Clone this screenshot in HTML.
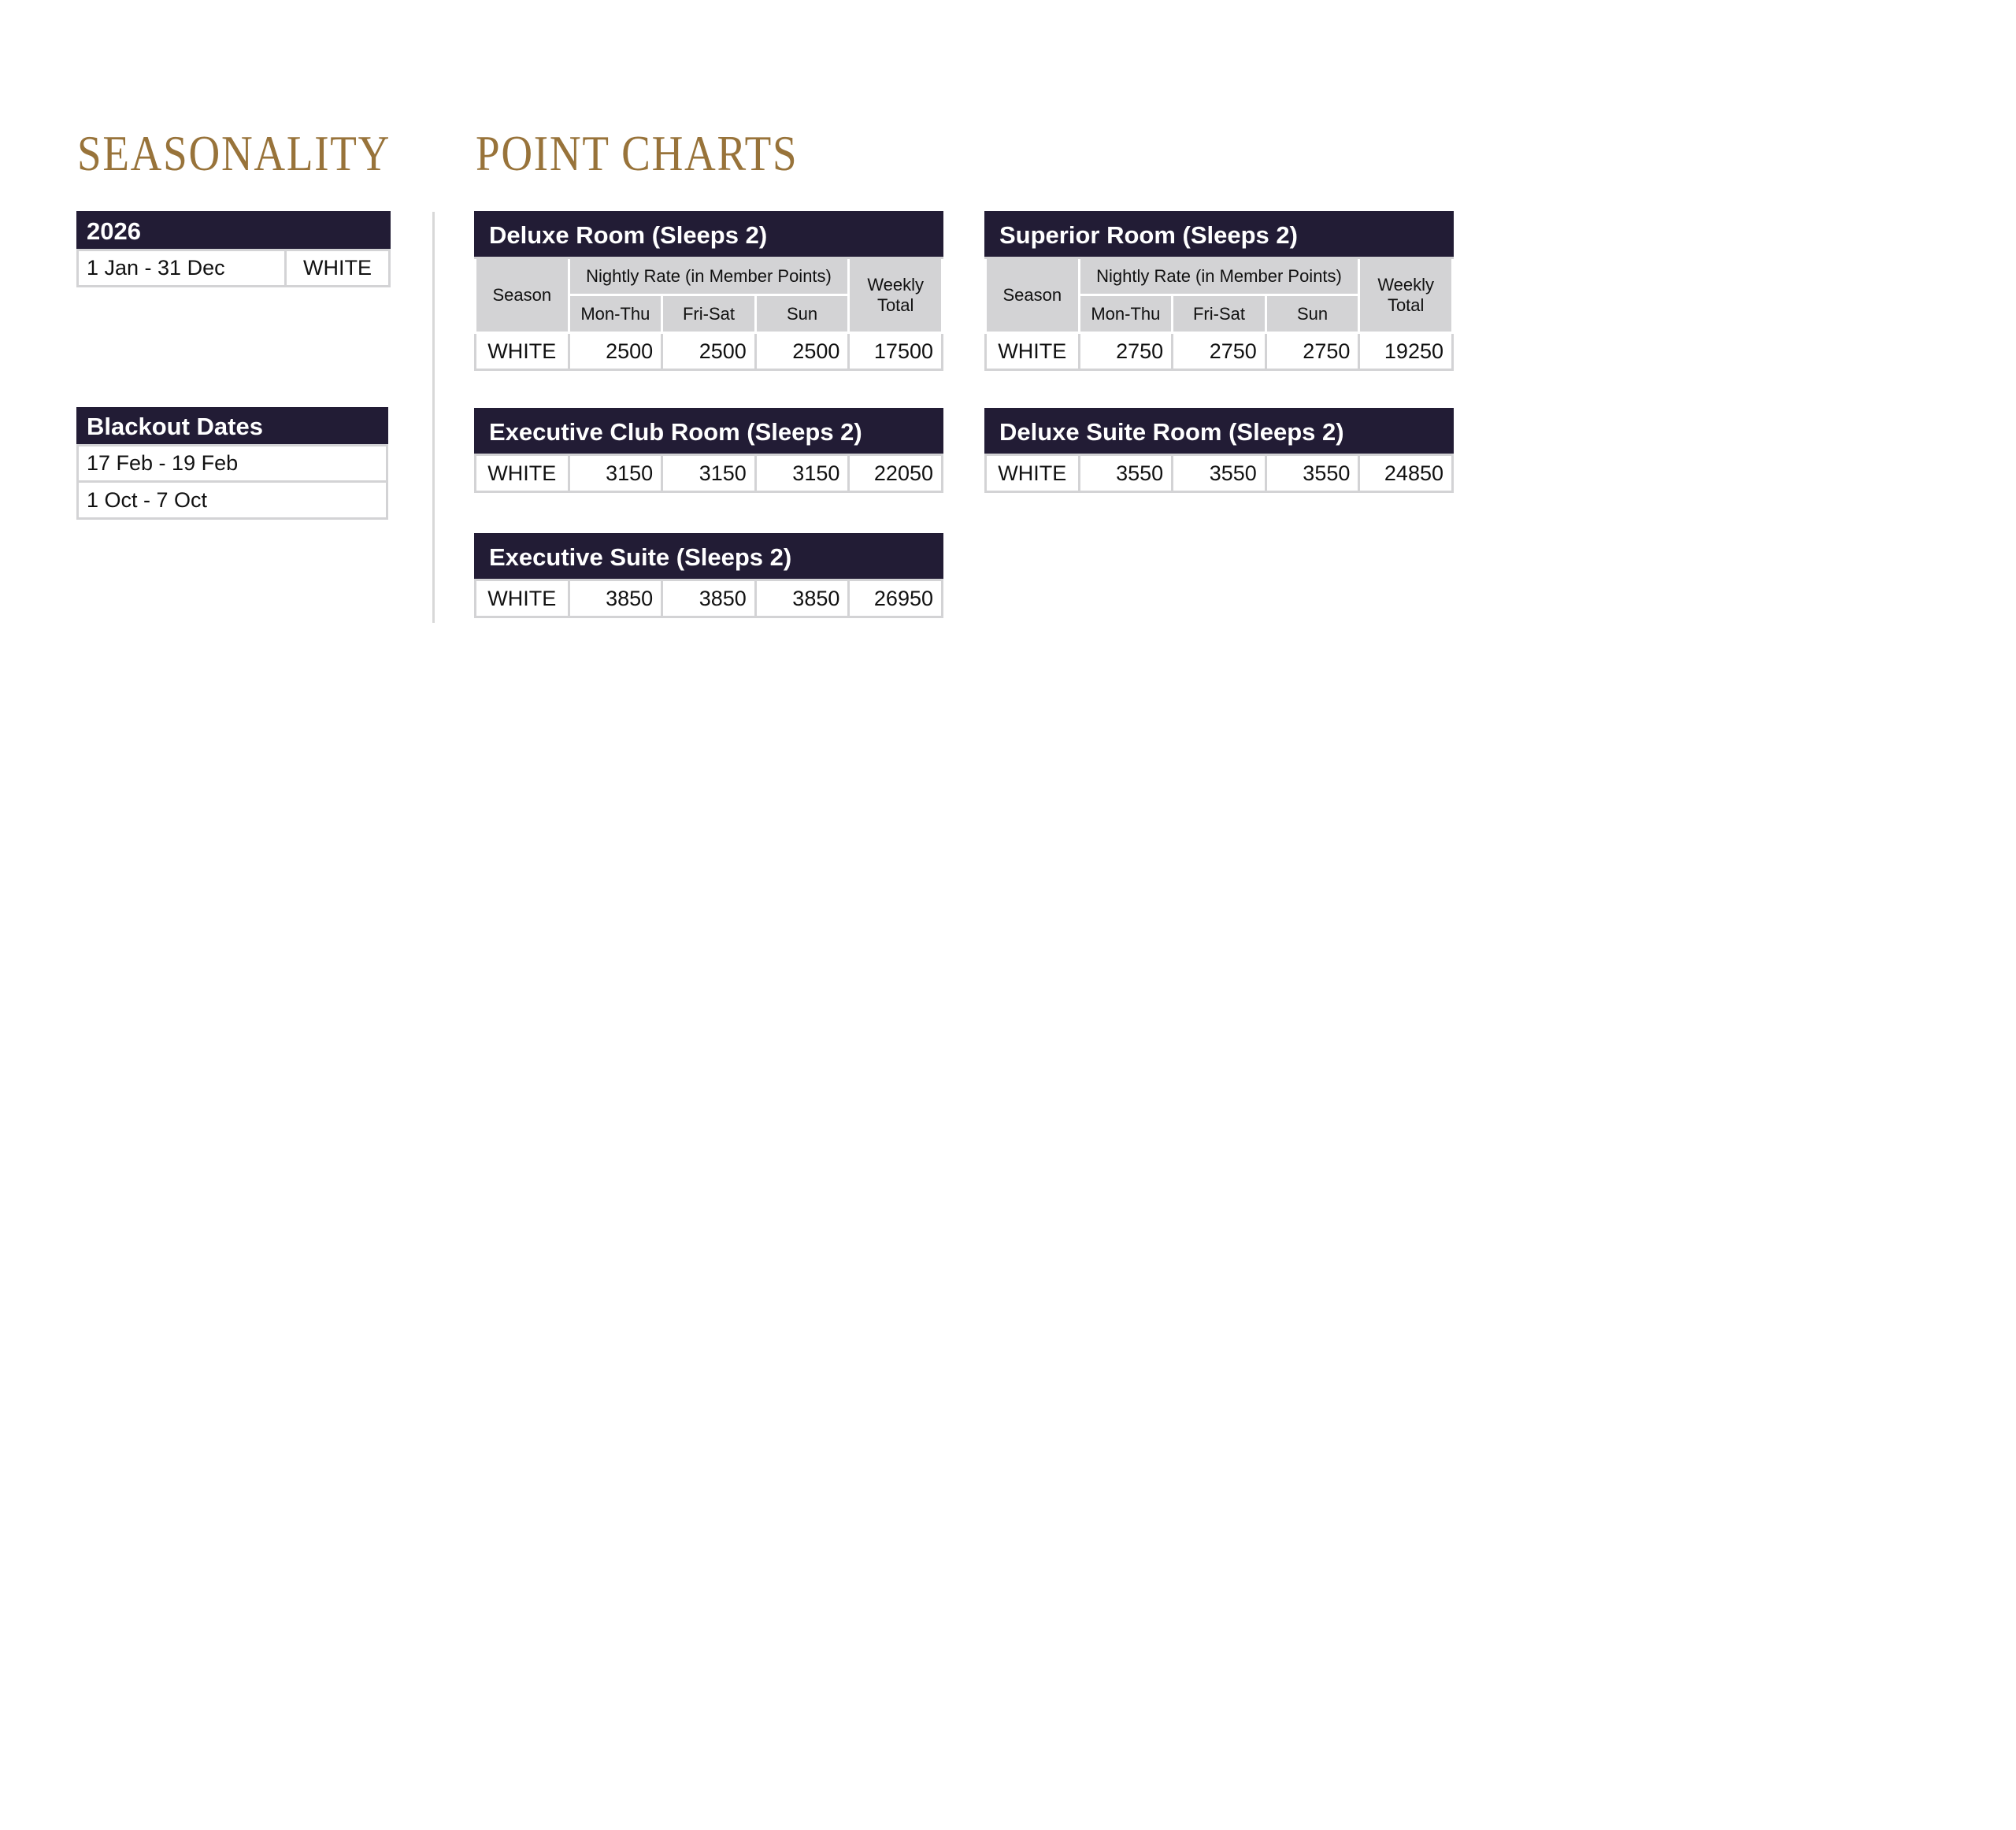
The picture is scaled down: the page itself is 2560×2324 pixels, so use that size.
<!DOCTYPE html>
<html><head><meta charset="utf-8"><style>
body{margin:0;width:2560px;height:2324px;background:#fff;position:relative;font-family:"Liberation Sans",sans-serif;color:#111;overflow:hidden}
.t{position:absolute;border-collapse:collapse;table-layout:fixed}
.t td{border:3px solid #d3d3d5;padding:0 12px;font-size:27px;white-space:nowrap;overflow:hidden}
.t td.h{background:#221c35;color:#fff;font-weight:bold;font-size:31px;border-color:#221c35;border-bottom-color:#d3d3d5;padding-left:16px}
.t td.g{background:#d3d3d5;border-color:#fff;font-size:22px;text-align:center}
.t td.r{text-align:right;padding-right:10px}
.t td.c{text-align:center}
.ttl{position:absolute;top:158px;font-family:"Liberation Serif",serif;font-size:64px;color:#98733a;letter-spacing:2px;transform-origin:0 0;transform:scaleX(0.86);white-space:nowrap}
.vl{position:absolute;left:549px;top:269px;width:3px;height:522px;background:#d8d8d8}
</style></head><body>
<div class="ttl" style="left:98px">SEASONALITY</div>
<div class="ttl" style="left:604px">POINT CHARTS</div>
<div class="vl"></div>

<table class="t" style="left:97px;top:268px;width:396px">
<colgroup><col style="width:264px"><col style="width:132px"></colgroup>
<tr style="height:48px"><td class="h" colspan="2" style="padding-left:10px">2026</td></tr>
<tr style="height:46px"><td style="padding-left:10px">1 Jan - 31 Dec</td><td class="c">WHITE</td></tr>
</table>

<table class="t" style="left:97px;top:517px;width:396px">
<tr style="height:47px"><td class="h" style="padding-left:10px">Blackout Dates</td></tr>
<tr style="height:46px"><td style="padding-left:10px">17 Feb - 19 Feb</td></tr>
<tr style="height:47px"><td style="padding-left:10px">1 Oct - 7 Oct</td></tr>
</table>

<table class="t" style="left:602px;top:268px;width:596px">
<colgroup><col><col><col><col><col></colgroup>
<tr style="height:58px"><td class="h" colspan="5">Deluxe Room (Sleeps 2)</td></tr>
<tr style="height:47px"><td class="g" rowspan="2">Season</td><td class="g" colspan="3">Nightly Rate (in Member Points)</td><td class="g" rowspan="2" style="line-height:26px;white-space:normal">Weekly<br>Total</td></tr>
<tr style="height:48px"><td class="g">Mon-Thu</td><td class="g">Fri-Sat</td><td class="g">Sun</td></tr>
<tr style="height:47px"><td class="c">WHITE</td><td class="r">2500</td><td class="r">2500</td><td class="r">2500</td><td class="r">17500</td></tr>
</table>

<table class="t" style="left:1250px;top:268px;width:596px">
<colgroup><col><col><col><col><col></colgroup>
<tr style="height:58px"><td class="h" colspan="5">Superior Room (Sleeps 2)</td></tr>
<tr style="height:47px"><td class="g" rowspan="2">Season</td><td class="g" colspan="3">Nightly Rate (in Member Points)</td><td class="g" rowspan="2" style="line-height:26px;white-space:normal">Weekly<br>Total</td></tr>
<tr style="height:48px"><td class="g">Mon-Thu</td><td class="g">Fri-Sat</td><td class="g">Sun</td></tr>
<tr style="height:47px"><td class="c">WHITE</td><td class="r">2750</td><td class="r">2750</td><td class="r">2750</td><td class="r">19250</td></tr>
</table>

<table class="t" style="left:602px;top:518px;width:596px">
<colgroup><col><col><col><col><col></colgroup>
<tr style="height:58px"><td class="h" colspan="5">Executive Club Room (Sleeps 2)</td></tr>
<tr style="height:47px"><td class="c">WHITE</td><td class="r">3150</td><td class="r">3150</td><td class="r">3150</td><td class="r">22050</td></tr>
</table>

<table class="t" style="left:1250px;top:518px;width:596px">
<colgroup><col><col><col><col><col></colgroup>
<tr style="height:58px"><td class="h" colspan="5">Deluxe Suite Room (Sleeps 2)</td></tr>
<tr style="height:47px"><td class="c">WHITE</td><td class="r">3550</td><td class="r">3550</td><td class="r">3550</td><td class="r">24850</td></tr>
</table>

<table class="t" style="left:602px;top:677px;width:596px">
<colgroup><col><col><col><col><col></colgroup>
<tr style="height:58px"><td class="h" colspan="5">Executive Suite (Sleeps 2)</td></tr>
<tr style="height:47px"><td class="c">WHITE</td><td class="r">3850</td><td class="r">3850</td><td class="r">3850</td><td class="r">26950</td></tr>
</table>
</body></html>
